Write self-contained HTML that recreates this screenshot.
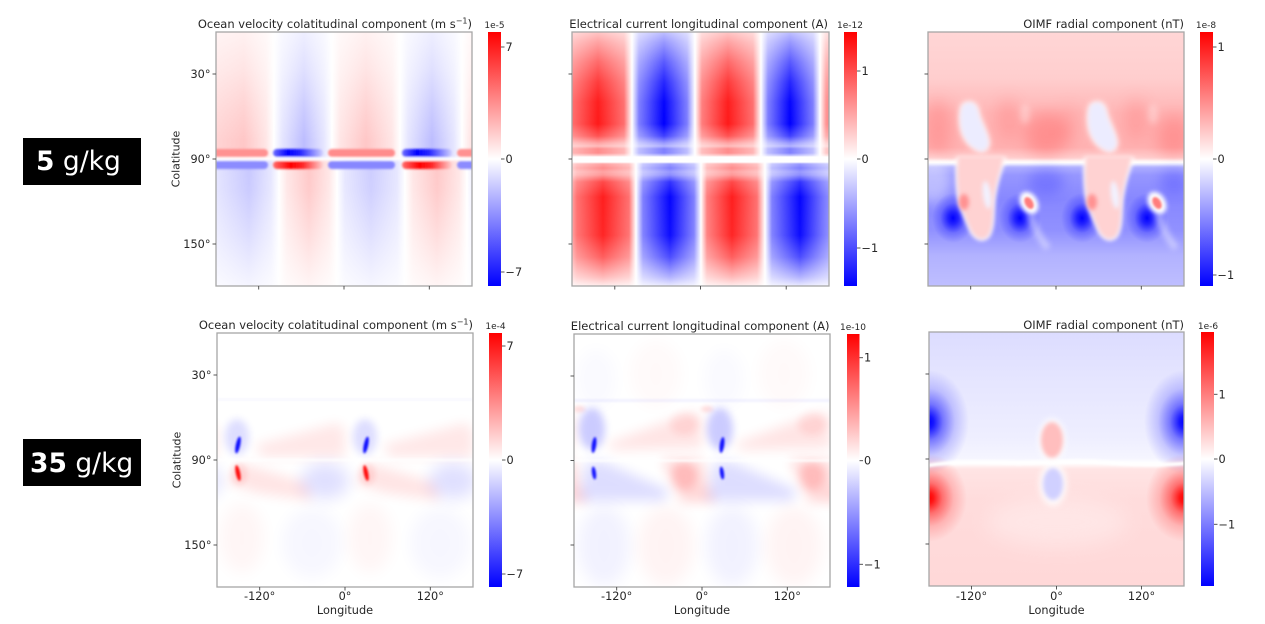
<!DOCTYPE html>
<html><head><meta charset="utf-8">
<style>
html,body{margin:0;padding:0;background:#fff;}
svg{display:block;}
text{font-family:"DejaVu Sans","Liberation Sans",sans-serif;}
</style></head><body>
<svg width="1265" height="624" viewBox="0 0 1265 624" xmlns="http://www.w3.org/2000/svg">
<defs>
<filter id="b1" filterUnits="userSpaceOnUse" x="-300" y="-300" width="1900" height="1300"><feGaussianBlur stdDeviation="1"/></filter>
<filter id="b15" filterUnits="userSpaceOnUse" x="-300" y="-300" width="1900" height="1300"><feGaussianBlur stdDeviation="1.5"/></filter>
<filter id="b2" filterUnits="userSpaceOnUse" x="-300" y="-300" width="1900" height="1300"><feGaussianBlur stdDeviation="2"/></filter>
<filter id="b3" filterUnits="userSpaceOnUse" x="-300" y="-300" width="1900" height="1300"><feGaussianBlur stdDeviation="3"/></filter>
<filter id="b4" filterUnits="userSpaceOnUse" x="-300" y="-300" width="1900" height="1300"><feGaussianBlur stdDeviation="4"/></filter>
<filter id="b6" filterUnits="userSpaceOnUse" x="-300" y="-300" width="1900" height="1300"><feGaussianBlur stdDeviation="6"/></filter>
<filter id="b8" filterUnits="userSpaceOnUse" x="-300" y="-300" width="1900" height="1300"><feGaussianBlur stdDeviation="8"/></filter>
<filter id="b10" filterUnits="userSpaceOnUse" x="-300" y="-300" width="1900" height="1300"><feGaussianBlur stdDeviation="10"/></filter>

<linearGradient id="cb" x1="0" y1="0" x2="0" y2="1">
<stop offset="0" stop-color="#ff0000"/><stop offset="0.5" stop-color="#ffffff"/><stop offset="1" stop-color="#0000ff"/>
</linearGradient>

<!-- Panel A -->
<linearGradient id="aU" gradientUnits="userSpaceOnUse" x1="0" y1="0" x2="256" y2="0">
<stop offset="0" stop-color="rgb(255,212,212)"/>
<stop offset="0.1094" stop-color="rgb(255,199,199)"/>
<stop offset="0.1953" stop-color="rgb(255,230,230)"/>
<stop offset="0.2266" stop-color="#fff"/>
<stop offset="0.2578" stop-color="rgb(230,230,255)"/>
<stop offset="0.3438" stop-color="rgb(189,189,255)"/>
<stop offset="0.4219" stop-color="rgb(230,230,255)"/>
<stop offset="0.4531" stop-color="#fff"/>
<stop offset="0.4844" stop-color="rgb(255,230,230)"/>
<stop offset="0.5859" stop-color="rgb(255,199,199)"/>
<stop offset="0.6875" stop-color="rgb(255,230,230)"/>
<stop offset="0.7188" stop-color="#fff"/>
<stop offset="0.75" stop-color="rgb(230,230,255)"/>
<stop offset="0.8438" stop-color="rgb(189,189,255)"/>
<stop offset="0.9297" stop-color="rgb(230,230,255)"/>
<stop offset="0.9609" stop-color="#fff"/>
<stop offset="1" stop-color="rgb(255,225,225)"/>
</linearGradient>
<linearGradient id="aL" gradientUnits="userSpaceOnUse" x1="0" y1="0" x2="256" y2="0">
<stop offset="0" stop-color="rgb(228,228,255)"/>
<stop offset="0.1289" stop-color="rgb(199,199,255)"/>
<stop offset="0.2148" stop-color="rgb(230,230,255)"/>
<stop offset="0.2461" stop-color="#fff"/>
<stop offset="0.2773" stop-color="rgb(255,230,230)"/>
<stop offset="0.3633" stop-color="rgb(255,199,199)"/>
<stop offset="0.4414" stop-color="rgb(255,230,230)"/>
<stop offset="0.4727" stop-color="#fff"/>
<stop offset="0.5039" stop-color="rgb(230,230,255)"/>
<stop offset="0.6055" stop-color="rgb(204,204,255)"/>
<stop offset="0.707" stop-color="rgb(230,230,255)"/>
<stop offset="0.7383" stop-color="#fff"/>
<stop offset="0.7695" stop-color="rgb(255,230,230)"/>
<stop offset="0.8633" stop-color="rgb(255,199,199)"/>
<stop offset="0.9492" stop-color="rgb(255,230,230)"/>
<stop offset="0.9805" stop-color="#fff"/>
<stop offset="1" stop-color="rgb(240,240,255)"/>
</linearGradient>
<linearGradient id="aUe" gradientUnits="userSpaceOnUse" x1="0" y1="0" x2="0" y2="127">
<stop offset="0" stop-color="#fff" stop-opacity="0.75"/>
<stop offset="0.3" stop-color="#fff" stop-opacity="0.52"/>
<stop offset="0.6" stop-color="#fff" stop-opacity="0.22"/>
<stop offset="0.85" stop-color="#fff" stop-opacity="0"/>
<stop offset="1" stop-color="#fff" stop-opacity="0"/>
</linearGradient>
<linearGradient id="aLe" gradientUnits="userSpaceOnUse" x1="0" y1="127" x2="0" y2="254">
<stop offset="0" stop-color="#fff" stop-opacity="0"/>
<stop offset="0.25" stop-color="#fff" stop-opacity="0.08"/>
<stop offset="0.6" stop-color="#fff" stop-opacity="0.4"/>
<stop offset="1" stop-color="#fff" stop-opacity="0.82"/>
</linearGradient>
<linearGradient id="bandB" x1="0" y1="0" x2="1" y2="0">
<stop offset="0" stop-color="rgb(110,110,255)"/>
<stop offset="0.3" stop-color="rgb(0,0,255)"/>
<stop offset="0.55" stop-color="rgb(40,40,255)"/>
<stop offset="1" stop-color="rgb(210,210,255)"/>
</linearGradient>
<linearGradient id="bandR" x1="0" y1="0" x2="1" y2="0">
<stop offset="0" stop-color="rgb(255,110,110)"/>
<stop offset="0.35" stop-color="rgb(255,0,0)"/>
<stop offset="0.6" stop-color="rgb(255,40,40)"/>
<stop offset="1" stop-color="rgb(255,210,210)"/>
</linearGradient>

<!-- Panel B -->
<linearGradient id="bU" gradientUnits="userSpaceOnUse" x1="0" y1="0" x2="257" y2="0">
<stop offset="0" stop-color="rgb(255,110,110)"/>
<stop offset="0.1012" stop-color="rgb(255,26,26)"/>
<stop offset="0.2023" stop-color="rgb(255,110,110)"/>
<stop offset="0.2335" stop-color="#fff"/>
<stop offset="0.2607" stop-color="rgb(125,125,255)"/>
<stop offset="0.358" stop-color="rgb(0,0,255)"/>
<stop offset="0.4475" stop-color="rgb(125,125,255)"/>
<stop offset="0.4786" stop-color="#fff"/>
<stop offset="0.5058" stop-color="rgb(255,125,125)"/>
<stop offset="0.607" stop-color="rgb(255,26,26)"/>
<stop offset="0.7043" stop-color="rgb(255,110,110)"/>
<stop offset="0.7354" stop-color="#fff"/>
<stop offset="0.7626" stop-color="rgb(125,125,255)"/>
<stop offset="0.8482" stop-color="rgb(0,0,255)"/>
<stop offset="0.9377" stop-color="rgb(125,125,255)"/>
<stop offset="0.965" stop-color="#fff"/>
<stop offset="0.9883" stop-color="rgb(255,150,150)"/>
<stop offset="1" stop-color="rgb(255,135,135)"/>
</linearGradient>
<linearGradient id="bL" gradientUnits="userSpaceOnUse" x1="0" y1="0" x2="257" y2="0">
<stop offset="0" stop-color="rgb(255,160,160)"/>
<stop offset="0.0195" stop-color="rgb(255,110,110)"/>
<stop offset="0.1206" stop-color="rgb(255,26,26)"/>
<stop offset="0.2218" stop-color="rgb(255,110,110)"/>
<stop offset="0.249" stop-color="#fff"/>
<stop offset="0.2763" stop-color="rgb(125,125,255)"/>
<stop offset="0.3813" stop-color="rgb(0,0,255)"/>
<stop offset="0.4747" stop-color="rgb(125,125,255)"/>
<stop offset="0.5019" stop-color="#fff"/>
<stop offset="0.5253" stop-color="rgb(255,125,125)"/>
<stop offset="0.6226" stop-color="rgb(255,26,26)"/>
<stop offset="0.7198" stop-color="rgb(255,110,110)"/>
<stop offset="0.751" stop-color="#fff"/>
<stop offset="0.7782" stop-color="rgb(125,125,255)"/>
<stop offset="0.8872" stop-color="rgb(0,0,255)"/>
<stop offset="0.9728" stop-color="rgb(110,110,255)"/>
<stop offset="1" stop-color="rgb(140,140,255)"/>
</linearGradient>
<linearGradient id="bUe" gradientUnits="userSpaceOnUse" x1="0" y1="0" x2="0" y2="127">
<stop offset="0" stop-color="#fff" stop-opacity="0.75"/>
<stop offset="0.079" stop-color="#fff" stop-opacity="0.6"/>
<stop offset="0.236" stop-color="#fff" stop-opacity="0.35"/>
<stop offset="0.394" stop-color="#fff" stop-opacity="0.15"/>
<stop offset="0.551" stop-color="#fff" stop-opacity="0.02"/>
<stop offset="0.724" stop-color="#fff" stop-opacity="0"/>
<stop offset="0.819" stop-color="#fff" stop-opacity="0.25"/>
<stop offset="0.874" stop-color="#fff" stop-opacity="0.6"/>
<stop offset="0.898" stop-color="#fff" stop-opacity="0.7"/>
<stop offset="0.921" stop-color="#fff" stop-opacity="0.5"/>
<stop offset="0.953" stop-color="#fff" stop-opacity="0.5"/>
<stop offset="0.972" stop-color="#fff" stop-opacity="0.75"/>
<stop offset="0.984" stop-color="#fff" stop-opacity="1"/>
<stop offset="1" stop-color="#fff" stop-opacity="1"/>
</linearGradient>
<linearGradient id="bLe" gradientUnits="userSpaceOnUse" x1="0" y1="127" x2="0" y2="254">
<stop offset="0" stop-color="#fff" stop-opacity="1"/>
<stop offset="0.024" stop-color="#fff" stop-opacity="1"/>
<stop offset="0.039" stop-color="#fff" stop-opacity="0.6"/>
<stop offset="0.071" stop-color="#fff" stop-opacity="0.5"/>
<stop offset="0.102" stop-color="#fff" stop-opacity="0.6"/>
<stop offset="0.126" stop-color="#fff" stop-opacity="0.55"/>
<stop offset="0.181" stop-color="#fff" stop-opacity="0.2"/>
<stop offset="0.299" stop-color="#fff" stop-opacity="0.02"/>
<stop offset="0.6" stop-color="#fff" stop-opacity="0.05"/>
<stop offset="0.772" stop-color="#fff" stop-opacity="0.3"/>
<stop offset="0.93" stop-color="#fff" stop-opacity="0.7"/>
<stop offset="1" stop-color="#fff" stop-opacity="0.92"/>
</linearGradient>

<!-- Panel C -->
<linearGradient id="cU" gradientUnits="userSpaceOnUse" x1="0" y1="0" x2="0" y2="131">
<stop offset="0" stop-color="rgb(255,214,214)"/>
<stop offset="0.35" stop-color="rgb(255,206,206)"/>
<stop offset="0.62" stop-color="rgb(255,182,182)"/>
<stop offset="0.88" stop-color="rgb(255,178,178)"/>
<stop offset="0.96" stop-color="rgb(255,205,205)"/>
<stop offset="1" stop-color="rgb(255,235,235)"/>
</linearGradient>
<linearGradient id="cL" gradientUnits="userSpaceOnUse" x1="0" y1="131" x2="0" y2="254">
<stop offset="0" stop-color="rgb(185,185,255)"/>
<stop offset="0.1" stop-color="rgb(150,150,255)"/>
<stop offset="0.3" stop-color="rgb(135,135,255)"/>
<stop offset="0.55" stop-color="rgb(145,145,255)"/>
<stop offset="0.75" stop-color="rgb(178,178,255)"/>
<stop offset="1" stop-color="rgb(190,190,255)"/>
</linearGradient>
<radialGradient id="dk">
<stop offset="0" stop-color="#0000ff" stop-opacity="1"/>
<stop offset="0.25" stop-color="#0000ff" stop-opacity="0.75"/>
<stop offset="0.6" stop-color="#0000ff" stop-opacity="0.25"/>
<stop offset="1" stop-color="#0000ff" stop-opacity="0"/>
</radialGradient>

<!-- Panel F -->
<linearGradient id="fU" gradientUnits="userSpaceOnUse" x1="0" y1="0" x2="0" y2="131">
<stop offset="0" stop-color="rgb(220,220,255)"/>
<stop offset="0.4" stop-color="rgb(230,230,255)"/>
<stop offset="0.8" stop-color="rgb(238,238,255)"/>
<stop offset="0.96" stop-color="rgb(245,245,255)"/>
<stop offset="1" stop-color="#fff"/>
</linearGradient>
<linearGradient id="fL" gradientUnits="userSpaceOnUse" x1="0" y1="131" x2="0" y2="254">
<stop offset="0" stop-color="#fff"/>
<stop offset="0.05" stop-color="rgb(255,228,228)"/>
<stop offset="0.3" stop-color="rgb(255,220,220)"/>
<stop offset="1" stop-color="rgb(255,216,216)"/>
</linearGradient>
<radialGradient id="rgB">
<stop offset="0" stop-color="#0000ff" stop-opacity="1"/>
<stop offset="0.12" stop-color="#0000ff" stop-opacity="0.9"/>
<stop offset="0.35" stop-color="#0000ff" stop-opacity="0.5"/>
<stop offset="0.65" stop-color="#0000ff" stop-opacity="0.18"/>
<stop offset="1" stop-color="#0000ff" stop-opacity="0"/>
</radialGradient>
<radialGradient id="rgR">
<stop offset="0" stop-color="#ff0000" stop-opacity="1"/>
<stop offset="0.12" stop-color="#ff0000" stop-opacity="0.9"/>
<stop offset="0.35" stop-color="#ff0000" stop-opacity="0.5"/>
<stop offset="0.65" stop-color="#ff0000" stop-opacity="0.18"/>
<stop offset="1" stop-color="#ff0000" stop-opacity="0"/>
</radialGradient>
</defs>

<rect width="1265" height="624" fill="#fff"/>

<!-- Row labels -->
<rect x="23" y="138" width="118" height="47" fill="#000"/>
<text x="36" y="170" font-size="26.5" fill="#fff"><tspan font-weight="bold">5</tspan> g/kg</text>
<rect x="23" y="439" width="118" height="47" fill="#000"/>
<text x="30" y="472" font-size="26.5" fill="#fff"><tspan font-weight="bold">35</tspan> g/kg</text>

<!-- ================= PANEL A ================= -->
<svg x="216" y="32" width="256" height="254">
<rect width="256" height="254" fill="#fff"/>
<rect y="0" width="256" height="127" fill="url(#aU)"/>
<rect y="0" width="256" height="127" fill="url(#aUe)"/>
<rect y="127" width="256" height="127" fill="url(#aL)"/>
<rect y="127" width="256" height="127" fill="url(#aLe)"/>
<g filter="url(#b1)">
<rect x="-14" y="117" width="66" height="8" rx="4" fill="rgb(255,145,145)"/>
<rect x="57" y="117" width="50" height="8" rx="4" fill="url(#bandB)"/>
<rect x="112" y="117" width="67" height="8" rx="4" fill="rgb(255,140,140)"/>
<rect x="186" y="117" width="50" height="8" rx="4" fill="url(#bandB)"/>
<rect x="241" y="117" width="66" height="8" rx="4" fill="rgb(255,145,145)"/>
<rect x="-14" y="129" width="66" height="8" rx="4" fill="rgb(140,140,255)"/>
<rect x="57" y="129" width="50" height="8" rx="4" fill="url(#bandR)"/>
<rect x="112" y="129" width="67" height="8" rx="4" fill="rgb(135,135,255)"/>
<rect x="186" y="129" width="50" height="8" rx="4" fill="url(#bandR)"/>
<rect x="241" y="129" width="66" height="8" rx="4" fill="rgb(140,140,255)"/>
<rect x="-5" y="125.3" width="266" height="3.2" fill="#fff"/>
</g>
</svg>

<!-- ================= PANEL B ================= -->
<svg x="572" y="32" width="257" height="254">
<rect width="257" height="254" fill="#fff"/>
<rect y="0" width="257" height="127" fill="url(#bU)"/>
<rect y="0" width="257" height="127" fill="url(#bUe)"/>
<rect y="127" width="257" height="127" fill="url(#bL)"/>
<rect y="127" width="257" height="127" fill="url(#bLe)"/>
</svg>

<!-- ================= PANEL C ================= -->
<svg x="928" y="32" width="256" height="254">
<rect width="256" height="254" fill="#fff"/>
<rect y="0" width="256" height="131" fill="url(#cU)"/>
<g fill="#ff0000" filter="url(#b8)">
<ellipse cx="10" cy="95" rx="14" ry="28" opacity="0.15"/>
<ellipse cx="80" cy="88" rx="12" ry="22" opacity="0.12"/>
<ellipse cx="118" cy="102" rx="22" ry="22" opacity="0.2"/>
<ellipse cx="140" cy="92" rx="10" ry="20" opacity="0.08"/>
<ellipse cx="208" cy="88" rx="12" ry="22" opacity="0.12"/>
<ellipse cx="246" cy="104" rx="18" ry="22" opacity="0.18"/>
</g>
<g>
<path d="M35,73 C41,69 48,70 50,80 C52,90 58,98 60,108 C62,116 56,121 50,118 C44,115 40,112 36,104 C32,96 31,80 35,73 Z" fill="#fff" stroke="#fff" stroke-width="4" opacity="0.7" filter="url(#b3)"/>
<path d="M35,73 C41,69 48,70 50,80 C52,90 58,98 60,108 C62,116 56,121 50,118 C44,115 40,112 36,104 C32,96 31,80 35,73 Z" fill="rgb(236,236,255)" filter="url(#b2)"/>
<g transform="translate(128,0)">
<path d="M35,73 C41,69 48,70 50,80 C52,90 58,98 60,108 C62,116 56,121 50,118 C44,115 40,112 36,104 C32,96 31,80 35,73 Z" fill="#fff" stroke="#fff" stroke-width="4" opacity="0.7" filter="url(#b3)"/>
<path d="M35,73 C41,69 48,70 50,80 C52,90 58,98 60,108 C62,116 56,121 50,118 C44,115 40,112 36,104 C32,96 31,80 35,73 Z" fill="rgb(236,236,255)" filter="url(#b2)"/>
</g>
<ellipse cx="97" cy="82" rx="5" ry="10" fill="#fff" opacity="0.28" filter="url(#b3)"/>
<ellipse cx="225" cy="82" rx="5" ry="10" fill="#fff" opacity="0.28" filter="url(#b3)"/>
</g>
<rect y="131" width="256" height="123" fill="url(#cL)"/>
<rect x="-5" y="128.5" width="266" height="4.5" fill="#fff" filter="url(#b15)"/>
<ellipse cx="5" cy="150" rx="18" ry="22" fill="#fff" opacity="0.4" filter="url(#b6)"/>
<ellipse cx="118" cy="150" rx="18" ry="13" fill="#0000ff" opacity="0.18" filter="url(#b6)"/>
<ellipse cx="246" cy="150" rx="14" ry="13" fill="#0000ff" opacity="0.18" filter="url(#b6)"/>
<ellipse cx="25" cy="186" rx="21" ry="25" fill="url(#dk)"/>
<ellipse cx="92" cy="186" rx="21" ry="25" fill="url(#dk)"/>
<ellipse cx="154" cy="186" rx="21" ry="25" fill="url(#dk)"/>
<ellipse cx="219" cy="186" rx="21" ry="25" fill="url(#dk)"/>
<g>
<path d="M30,127 L76,127 C72,140 68,150 66,165 C64,180 66,195 60,204 C54,210 46,206 42,196 C37,184 31,172 30,158 C29,145 29,135 30,127 Z" fill="#fff" stroke="#fff" stroke-width="4" opacity="0.85" filter="url(#b2)"/>
<path d="M30,124 L76,124 C72,140 68,150 66,165 C64,180 66,195 60,204 C54,210 46,206 42,196 C37,184 31,172 30,158 C29,145 29,135 30,124 Z" fill="rgb(255,210,210)" filter="url(#b2)"/>
<ellipse cx="36" cy="170" rx="5" ry="8" fill="rgb(255,145,145)" filter="url(#b2)"/>
<ellipse cx="59" cy="163" rx="4" ry="14" fill="rgb(242,242,255)" filter="url(#b2)" transform="rotate(-8 59 163)"/>
</g>
<g transform="translate(128,0)">
<path d="M30,127 L76,127 C72,140 68,150 66,165 C64,180 66,195 60,204 C54,210 46,206 42,196 C37,184 31,172 30,158 C29,145 29,135 30,127 Z" fill="#fff" stroke="#fff" stroke-width="4" opacity="0.85" filter="url(#b2)"/>
<path d="M30,124 L76,124 C72,140 68,150 66,165 C64,180 66,195 60,204 C54,210 46,206 42,196 C37,184 31,172 30,158 C29,145 29,135 30,124 Z" fill="rgb(255,210,210)" filter="url(#b2)"/>
<ellipse cx="36" cy="170" rx="5" ry="8" fill="rgb(255,145,145)" filter="url(#b2)"/>
<ellipse cx="59" cy="163" rx="4" ry="14" fill="rgb(242,242,255)" filter="url(#b2)" transform="rotate(-8 59 163)"/>
</g>
<path d="M102,182 C106,195 112,207 120,216" stroke="#fff" stroke-width="7" fill="none" opacity="0.4" filter="url(#b3)"/>
<path d="M230,182 C234,195 240,207 248,216" stroke="#fff" stroke-width="7" fill="none" opacity="0.4" filter="url(#b3)"/>
<ellipse cx="101" cy="171" rx="8.5" ry="12" fill="#fff" filter="url(#b2)" transform="rotate(-30 101 171)"/>
<ellipse cx="101" cy="171" rx="4" ry="6.5" fill="rgb(255,125,125)" filter="url(#b1)" transform="rotate(-30 101 171)"/>
<ellipse cx="229" cy="171" rx="8.5" ry="12" fill="#fff" filter="url(#b2)" transform="rotate(-30 229 171)"/>
<ellipse cx="229" cy="171" rx="4" ry="6.5" fill="rgb(255,125,125)" filter="url(#b1)" transform="rotate(-30 229 171)"/>
</svg>

<!-- ================= PANEL D ================= -->
<svg x="217" y="333" width="256" height="254">
<rect width="256" height="254" fill="#fff"/>
<rect x="0" y="65" width="256" height="3" fill="#0000ff" opacity="0.025" filter="url(#b1)"/>
<g transform="translate(-128,0)">
<polygon points="38,112 120,90 128,96 128,124 45,124" fill="#ff0000" opacity="0.09" filter="url(#b6)"/>
<polygon points="25,130 90,150 95,168 40,160 10,150" fill="#ff0000" opacity="0.1" filter="url(#b6)"/>
<ellipse cx="108" cy="148" rx="24" ry="18" fill="#0000ff" opacity="0.12" filter="url(#b8)"/>
</g>
<g>
<ellipse cx="25" cy="205" rx="22" ry="35" fill="#ff0000" opacity="0.035" filter="url(#b8)"/>
<ellipse cx="95" cy="210" rx="30" ry="35" fill="#0000ff" opacity="0.03" filter="url(#b8)"/>
<ellipse cx="20" cy="104" rx="12" ry="18" fill="#0000ff" opacity="0.13" filter="url(#b4)"/>
<polygon points="38,112 120,90 128,96 128,124 45,124" fill="#ff0000" opacity="0.09" filter="url(#b6)"/>
<polygon points="25,130 90,150 95,168 40,160 10,150" fill="#ff0000" opacity="0.1" filter="url(#b6)"/>
<ellipse cx="108" cy="148" rx="24" ry="18" fill="#0000ff" opacity="0.12" filter="url(#b8)"/>
<ellipse cx="22" cy="141" rx="8" ry="11" fill="#ff0000" opacity="0.1" filter="url(#b3)"/>
<ellipse cx="21" cy="112" rx="2.2" ry="8.5" fill="#0000ff" opacity="0.95" filter="url(#b1)" transform="rotate(12 21 112)"/>
<ellipse cx="21" cy="140" rx="2.2" ry="8" fill="#ff0000" opacity="0.95" filter="url(#b1)" transform="rotate(-12 21 140)"/>
</g>
<g transform="translate(128,0)">
<ellipse cx="25" cy="205" rx="22" ry="35" fill="#ff0000" opacity="0.035" filter="url(#b8)"/>
<ellipse cx="95" cy="210" rx="30" ry="35" fill="#0000ff" opacity="0.03" filter="url(#b8)"/>
<ellipse cx="20" cy="104" rx="12" ry="18" fill="#0000ff" opacity="0.13" filter="url(#b4)"/>
<polygon points="38,112 120,90 128,96 128,124 45,124" fill="#ff0000" opacity="0.09" filter="url(#b6)"/>
<polygon points="25,130 90,150 95,168 40,160 10,150" fill="#ff0000" opacity="0.1" filter="url(#b6)"/>
<ellipse cx="108" cy="148" rx="24" ry="18" fill="#0000ff" opacity="0.12" filter="url(#b8)"/>
<ellipse cx="22" cy="141" rx="8" ry="11" fill="#ff0000" opacity="0.1" filter="url(#b3)"/>
<ellipse cx="21" cy="112" rx="2.2" ry="8.5" fill="#0000ff" opacity="0.95" filter="url(#b1)" transform="rotate(12 21 112)"/>
<ellipse cx="21" cy="140" rx="2.2" ry="8" fill="#ff0000" opacity="0.95" filter="url(#b1)" transform="rotate(-12 21 140)"/>
</g>
<rect x="-5" y="126" width="266" height="2" fill="#fff" filter="url(#b1)"/>
</svg>

<!-- ================= PANEL E ================= -->
<svg x="574" y="334" width="256" height="253">
<rect width="256" height="253" fill="#fff"/>
<rect x="0" y="65" width="256" height="3" fill="#0000ff" opacity="0.05" filter="url(#b1)"/>
<g transform="translate(-128,0)">
<polygon points="32,110 118,78 128,82 128,114 40,116" fill="#ff0000" opacity="0.1" filter="url(#b6)"/>
<polygon points="88,126 128,126 132,150 142,168 108,168" fill="#ff0000" opacity="0.16" filter="url(#b6)"/>
<ellipse cx="110" cy="142" rx="12" ry="14" fill="#ff0000" opacity="0.12" filter="url(#b4)"/>
</g>
<g>
<ellipse cx="30" cy="212" rx="26" ry="40" fill="#0000ff" opacity="0.05" filter="url(#b8)"/>
<ellipse cx="92" cy="212" rx="28" ry="40" fill="#ff0000" opacity="0.045" filter="url(#b8)"/>
<ellipse cx="82" cy="40" rx="26" ry="34" fill="#ff0000" opacity="0.02" filter="url(#b8)"/>
<ellipse cx="22" cy="45" rx="20" ry="30" fill="#0000ff" opacity="0.018" filter="url(#b8)"/>
<ellipse cx="18" cy="95" rx="13" ry="21" fill="#0000ff" opacity="0.2" filter="url(#b4)"/>
<ellipse cx="5" cy="75" rx="6" ry="3" fill="#ff0000" opacity="0.14" filter="url(#b2)"/>
<polygon points="32,110 118,78 128,82 128,114 40,116" fill="#ff0000" opacity="0.1" filter="url(#b6)"/>
<ellipse cx="110" cy="90" rx="14" ry="11" fill="#ff0000" opacity="0.08" filter="url(#b4)"/>
<polygon points="12,128 30,128 95,156 90,167 5,167" fill="#0000ff" opacity="0.13" filter="url(#b6)"/>
<polygon points="88,126 128,126 132,150 142,168 108,168" fill="#ff0000" opacity="0.16" filter="url(#b6)"/>
<ellipse cx="110" cy="142" rx="12" ry="14" fill="#ff0000" opacity="0.12" filter="url(#b4)"/>
<ellipse cx="20" cy="111" rx="2.2" ry="8" fill="#0000ff" opacity="0.92" filter="url(#b1)" transform="rotate(8 20 111)"/>
<ellipse cx="20" cy="139" rx="2" ry="6.5" fill="#0000ff" opacity="0.92" filter="url(#b1)" transform="rotate(-8 20 139)"/>
</g>
<g transform="translate(128,0)">
<ellipse cx="30" cy="212" rx="26" ry="40" fill="#0000ff" opacity="0.05" filter="url(#b8)"/>
<ellipse cx="92" cy="212" rx="28" ry="40" fill="#ff0000" opacity="0.045" filter="url(#b8)"/>
<ellipse cx="82" cy="40" rx="26" ry="34" fill="#ff0000" opacity="0.02" filter="url(#b8)"/>
<ellipse cx="22" cy="45" rx="20" ry="30" fill="#0000ff" opacity="0.018" filter="url(#b8)"/>
<ellipse cx="18" cy="95" rx="13" ry="21" fill="#0000ff" opacity="0.2" filter="url(#b4)"/>
<ellipse cx="5" cy="75" rx="6" ry="3" fill="#ff0000" opacity="0.14" filter="url(#b2)"/>
<polygon points="32,110 118,78 128,82 128,114 40,116" fill="#ff0000" opacity="0.1" filter="url(#b6)"/>
<ellipse cx="110" cy="90" rx="14" ry="11" fill="#ff0000" opacity="0.08" filter="url(#b4)"/>
<polygon points="12,128 30,128 95,156 90,167 5,167" fill="#0000ff" opacity="0.13" filter="url(#b6)"/>
<polygon points="88,126 128,126 132,150 142,168 108,168" fill="#ff0000" opacity="0.16" filter="url(#b6)"/>
<ellipse cx="110" cy="142" rx="12" ry="14" fill="#ff0000" opacity="0.12" filter="url(#b4)"/>
<ellipse cx="20" cy="111" rx="2.2" ry="8" fill="#0000ff" opacity="0.92" filter="url(#b1)" transform="rotate(8 20 111)"/>
<ellipse cx="20" cy="139" rx="2" ry="6.5" fill="#0000ff" opacity="0.92" filter="url(#b1)" transform="rotate(-8 20 139)"/>
</g>
<rect x="-5" y="125.5" width="266" height="2" fill="#fff" filter="url(#b1)"/>
</svg>

<!-- ================= PANEL F ================= -->
<svg x="929" y="332" width="255" height="254">
<rect width="255" height="254" fill="#fff"/>
<rect y="0" width="255" height="131" fill="url(#fU)"/>
<rect y="131" width="255" height="123" fill="url(#fL)"/>
<ellipse cx="0" cy="90" rx="40" ry="52" fill="url(#rgB)"/>
<ellipse cx="255" cy="90" rx="40" ry="52" fill="url(#rgB)"/>
<ellipse cx="0" cy="166" rx="38" ry="44" fill="url(#rgR)"/>
<ellipse cx="255" cy="166" rx="38" ry="44" fill="url(#rgR)"/>
<ellipse cx="128" cy="190" rx="70" ry="25" fill="#fff" opacity="0.3" filter="url(#b10)"/>
<path d="M-5,134 C25,129 55,130 85,131 C110,132 140,127 170,130 C200,133 230,134 260,131" stroke="#fff" stroke-width="3.5" fill="none" filter="url(#b1)"/>
<ellipse cx="123" cy="108" rx="14" ry="22" fill="#fff" opacity="0.8" filter="url(#b3)"/>
<ellipse cx="123" cy="108" rx="11" ry="18" fill="rgb(255,190,190)" filter="url(#b2)"/>
<ellipse cx="124" cy="152" rx="14" ry="22" fill="#fff" opacity="0.8" filter="url(#b3)"/>
<ellipse cx="124" cy="152" rx="10" ry="16" fill="rgb(208,208,255)" filter="url(#b2)"/>
</svg>

<!-- ================= SPINES ================= -->
<g fill="none" stroke="#a6a6a6" stroke-width="1.3">
<rect x="216" y="32" width="256" height="254"/>
<rect x="572" y="32" width="257" height="254"/>
<rect x="928" y="32" width="256" height="254"/>
<rect x="217" y="333" width="256" height="254"/>
<rect x="574" y="334" width="256" height="253"/>
<rect x="929" y="332" width="255" height="254"/>
</g>

<!-- ================= COLORBARS ================= -->
<rect x="488" y="32" width="13" height="254" fill="url(#cb)"/>
<rect x="844" y="32" width="13" height="254" fill="url(#cb)"/>
<rect x="1200" y="32" width="13" height="254" fill="url(#cb)"/>
<rect x="489" y="333" width="13" height="254" fill="url(#cb)"/>
<rect x="847" y="334" width="12.5" height="253" fill="url(#cb)"/>
<rect x="1201" y="332" width="13" height="254" fill="url(#cb)"/>

<!-- ================= TICKS ================= -->
<g stroke="#444" stroke-width="0.9">
<line x1="212.5" y1="74" x2="216" y2="74"/><line x1="212.5" y1="159" x2="216" y2="159"/><line x1="212.5" y1="244" x2="216" y2="244"/>
<line x1="568.5" y1="74" x2="572" y2="74"/><line x1="568.5" y1="159" x2="572" y2="159"/><line x1="568.5" y1="244" x2="572" y2="244"/>
<line x1="924.5" y1="74" x2="928" y2="74"/><line x1="924.5" y1="159" x2="928" y2="159"/><line x1="924.5" y1="244" x2="928" y2="244"/>
<line x1="213.5" y1="375" x2="217" y2="375"/><line x1="213.5" y1="460" x2="217" y2="460"/><line x1="213.5" y1="545" x2="217" y2="545"/>
<line x1="570.5" y1="376" x2="574" y2="376"/><line x1="570.5" y1="460.5" x2="574" y2="460.5"/><line x1="570.5" y1="545" x2="574" y2="545"/>
<line x1="925.5" y1="374" x2="929" y2="374"/><line x1="925.5" y1="459" x2="929" y2="459"/><line x1="925.5" y1="544" x2="929" y2="544"/>
<line x1="258.7" y1="286" x2="258.7" y2="289.5"/><line x1="344" y1="286" x2="344" y2="289.5"/><line x1="429.3" y1="286" x2="429.3" y2="289.5"/>
<line x1="614.8" y1="286" x2="614.8" y2="289.5"/><line x1="700.5" y1="286" x2="700.5" y2="289.5"/><line x1="786.2" y1="286" x2="786.2" y2="289.5"/>
<line x1="970.7" y1="286" x2="970.7" y2="289.5"/><line x1="1056" y1="286" x2="1056" y2="289.5"/><line x1="1141.3" y1="286" x2="1141.3" y2="289.5"/>
<line x1="259.7" y1="587" x2="259.7" y2="590.5"/><line x1="345" y1="587" x2="345" y2="590.5"/><line x1="430.3" y1="587" x2="430.3" y2="590.5"/>
<line x1="616.7" y1="587" x2="616.7" y2="590.5"/><line x1="702" y1="587" x2="702" y2="590.5"/><line x1="787.3" y1="587" x2="787.3" y2="590.5"/>
<line x1="971.5" y1="586" x2="971.5" y2="589.5"/><line x1="1056.5" y1="586" x2="1056.5" y2="589.5"/><line x1="1141.5" y1="586" x2="1141.5" y2="589.5"/>
<line x1="501" y1="47" x2="504.5" y2="47"/><line x1="501" y1="159" x2="504.5" y2="159"/><line x1="501" y1="272" x2="504.5" y2="272"/>
<line x1="857" y1="71" x2="860.5" y2="71"/><line x1="857" y1="159" x2="860.5" y2="159"/><line x1="857" y1="248" x2="860.5" y2="248"/>
<line x1="1213" y1="47" x2="1216.5" y2="47"/><line x1="1213" y1="159" x2="1216.5" y2="159"/><line x1="1213" y1="275" x2="1216.5" y2="275"/>
<line x1="502" y1="346" x2="505.5" y2="346"/><line x1="502" y1="460" x2="505.5" y2="460"/><line x1="502" y1="574" x2="505.5" y2="574"/>
<line x1="859.5" y1="357.7" x2="863" y2="357.7"/><line x1="859.5" y1="460.7" x2="863" y2="460.7"/><line x1="859.5" y1="564.3" x2="863" y2="564.3"/>
<line x1="1214" y1="394.3" x2="1217.5" y2="394.3"/><line x1="1214" y1="459" x2="1217.5" y2="459"/><line x1="1214" y1="524.3" x2="1217.5" y2="524.3"/>
</g>

<!-- ================= TEXT ================= -->
<g fill="#262626">
<text x="472" y="28" font-size="11.5" text-anchor="end">Ocean velocity colatitudinal component (m s<tspan font-size="8" dy="-4.5">−1</tspan><tspan dy="4.5">)</tspan></text>
<text x="828" y="28" font-size="11.5" text-anchor="end">Electrical current longitudinal component (A)</text>
<text x="1184" y="28" font-size="11.5" text-anchor="end">OIMF radial component (nT)</text>
<text x="473" y="329" font-size="11.5" text-anchor="end">Ocean velocity colatitudinal component (m s<tspan font-size="8" dy="-4.5">−1</tspan><tspan dy="4.5">)</tspan></text>
<text x="829.5" y="330" font-size="11.5" text-anchor="end">Electrical current longitudinal component (A)</text>
<text x="1184" y="329" font-size="11.5" text-anchor="end">OIMF radial component (nT)</text>

<g font-size="11.3" text-anchor="end">
<text x="210.5" y="78">30°</text><text x="210.5" y="163">90°</text><text x="210.5" y="248">150°</text>
<text x="211.5" y="379">30°</text><text x="211.5" y="464">90°</text><text x="211.5" y="549">150°</text>
</g>
<text transform="translate(179.5,159) rotate(-90)" font-size="11" text-anchor="middle">Colatitude</text>
<text transform="translate(180.5,460) rotate(-90)" font-size="11" text-anchor="middle">Colatitude</text>

<g font-size="11.3" text-anchor="middle">
<text x="259.7" y="600">-120°</text><text x="345" y="600">0°</text><text x="430.3" y="600">120°</text>
<text x="616.7" y="600">-120°</text><text x="702" y="600">0°</text><text x="787.3" y="600">120°</text>
<text x="971.5" y="600">-120°</text><text x="1056.5" y="600">0°</text><text x="1141.5" y="600">120°</text>
<text x="345" y="614">Longitude</text><text x="702" y="614">Longitude</text><text x="1056.5" y="614">Longitude</text>
</g>

<g font-size="11.3">
<text x="505.5" y="51">7</text><text x="505.5" y="163">0</text><text x="505.5" y="276">−7</text>
<text x="861.5" y="75">1</text><text x="861.5" y="163">0</text><text x="861.5" y="252">−1</text>
<text x="1217.5" y="51">1</text><text x="1217.5" y="163">0</text><text x="1217.5" y="279">−1</text>
<text x="506.5" y="350">7</text><text x="506.5" y="464">0</text><text x="506.5" y="578">−7</text>
<text x="864" y="361.7">1</text><text x="864" y="464.7">0</text><text x="864" y="568.3">−1</text>
<text x="1218.5" y="398.3">1</text><text x="1218.5" y="463">0</text><text x="1218.5" y="528.3">−1</text>
</g>

<g font-size="9" text-anchor="middle">
<text x="494.5" y="28">1e-5</text>
<text x="850" y="28">1e-12</text>
<text x="1206" y="28">1e-8</text>
<text x="495.5" y="329">1e-4</text>
<text x="853" y="330">1e-10</text>
<text x="1208" y="329">1e-6</text>
</g>
</g>
</svg>
</body></html>
